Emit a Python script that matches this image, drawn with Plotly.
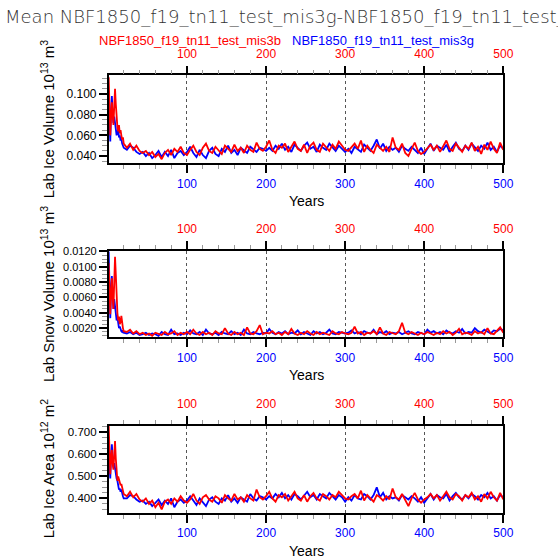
import plotly.graph_objects as go

# years sampled: every year for the spin-up, then every 4 years
years = list(range(1, 21)) + list(range(24, 501, 4))

case_b = "NBF1850_f19_tn11_test_mis3b"
case_g = "NBF1850_f19_tn11_test_mis3g"

# --- Lab Ice Volume (10^13 m^3) ---
ice_vol_b = [0.116, 0.085, 0.060, 0.078, 0.092, 0.080, 0.070, 0.088, 0.105, 0.090,
             0.075, 0.068, 0.064, 0.070, 0.062, 0.065, 0.060, 0.056, 0.058, 0.052,
             0.048, 0.052, 0.046, 0.050, 0.045,
             0.043, 0.045, 0.041, 0.044, 0.039, 0.042, 0.037, 0.043, 0.046, 0.041, 0.047, 0.044, 0.049, 0.043, 0.041,
             0.046, 0.050, 0.044, 0.041, 0.048, 0.052, 0.045, 0.043, 0.049, 0.046, 0.042, 0.050, 0.047, 0.044, 0.051,
             0.045, 0.048, 0.043, 0.050, 0.046, 0.044, 0.053, 0.047, 0.045, 0.049,
             0.055, 0.046, 0.043, 0.050, 0.048, 0.052, 0.044, 0.049, 0.054, 0.047, 0.045, 0.051, 0.043, 0.050, 0.053,
             0.046, 0.044, 0.052, 0.049, 0.045, 0.051, 0.047, 0.054, 0.050, 0.046,
             0.045, 0.049, 0.052, 0.047, 0.055, 0.044, 0.050, 0.046, 0.043, 0.051, 0.048, 0.045, 0.049, 0.044, 0.058,
             0.048, 0.046, 0.052, 0.043, 0.040, 0.047, 0.053, 0.045, 0.042, 0.044,
             0.048, 0.051, 0.046, 0.050, 0.044, 0.049, 0.055, 0.047, 0.045, 0.052, 0.048, 0.044, 0.050, 0.047, 0.053,
             0.045, 0.049, 0.042, 0.051, 0.046, 0.054, 0.047, 0.043, 0.053, 0.046]
ice_vol_g = [0.095, 0.060, 0.054, 0.085, 0.098, 0.082, 0.072, 0.078, 0.070, 0.065,
             0.060, 0.063, 0.066, 0.058, 0.060, 0.055, 0.057, 0.052, 0.050, 0.048,
             0.046, 0.050, 0.048, 0.044, 0.042,
             0.044, 0.040, 0.043, 0.038, 0.041, 0.045, 0.039, 0.044, 0.040, 0.046, 0.038, 0.043, 0.045, 0.041, 0.044,
             0.049, 0.043, 0.039, 0.046, 0.041, 0.038, 0.045, 0.048, 0.042, 0.040, 0.047, 0.044, 0.050, 0.043, 0.046,
             0.041, 0.048, 0.045, 0.043, 0.049, 0.046, 0.044, 0.048, 0.047, 0.045,
             0.048, 0.045, 0.050, 0.047, 0.052, 0.046, 0.049, 0.044, 0.051, 0.048, 0.045, 0.050, 0.053, 0.047, 0.049,
             0.044, 0.051, 0.048, 0.046, 0.052, 0.049, 0.045, 0.050, 0.047, 0.044,
             0.047, 0.043, 0.049, 0.046, 0.044, 0.051, 0.048, 0.045, 0.050, 0.056, 0.047, 0.052, 0.045, 0.049, 0.046,
             0.048, 0.044, 0.050, 0.047, 0.045, 0.049, 0.046, 0.043, 0.048, 0.042,
             0.047, 0.052, 0.045, 0.050, 0.048, 0.046, 0.051, 0.044, 0.049, 0.053, 0.047, 0.045, 0.050, 0.046, 0.052,
             0.048, 0.045, 0.050, 0.047, 0.053, 0.046, 0.049, 0.044, 0.050, 0.047]

# --- Lab Snow Volume (10^13 m^3) ---
snow_vol_b = [0.0105, 0.0060, 0.0038, 0.0065, 0.0085, 0.0060, 0.0045, 0.0080, 0.0113, 0.0090,
              0.0055, 0.0040, 0.0030, 0.0035, 0.0025, 0.0028, 0.0036, 0.0022, 0.0020, 0.0016,
              0.0015, 0.0018, 0.0013, 0.0016, 0.0012,
              0.0014, 0.0011, 0.0013, 0.0010, 0.0014, 0.0012, 0.0011, 0.0015, 0.0012, 0.0013, 0.0016, 0.0011, 0.0014, 0.0012, 0.0015,
              0.0012, 0.0018, 0.0013, 0.0011, 0.0015, 0.0012, 0.0014, 0.0011, 0.0016, 0.0013, 0.0012, 0.0020, 0.0013, 0.0011, 0.0015,
              0.0012, 0.0014, 0.0011, 0.0021, 0.0013, 0.0012, 0.0016, 0.0024, 0.0012, 0.0014,
              0.0013, 0.0016, 0.0012, 0.0014, 0.0011, 0.0015, 0.0012, 0.0019, 0.0013, 0.0011, 0.0014, 0.0012, 0.0016, 0.0013, 0.0011,
              0.0015, 0.0012, 0.0014, 0.0013, 0.0011, 0.0016, 0.0013, 0.0012, 0.0015, 0.0013,
              0.0012, 0.0014, 0.0022, 0.0013, 0.0015, 0.0011, 0.0014, 0.0013, 0.0016, 0.0012, 0.0021, 0.0013, 0.0011, 0.0015, 0.0013,
              0.0012, 0.0016, 0.0027, 0.0014, 0.0012, 0.0015, 0.0013, 0.0011, 0.0014, 0.0012,
              0.0015, 0.0013, 0.0011, 0.0014, 0.0012, 0.0016, 0.0013, 0.0015, 0.0011, 0.0014, 0.0019, 0.0012, 0.0014, 0.0013, 0.0011,
              0.0016, 0.0013, 0.0015, 0.0012, 0.0020, 0.0013, 0.0012, 0.0016, 0.0021, 0.0014]
snow_vol_g = [0.0120, 0.0060, 0.0033, 0.0070, 0.0088, 0.0065, 0.0045, 0.0058, 0.0048, 0.0040,
              0.0030, 0.0034, 0.0025, 0.0020, 0.0022, 0.0018, 0.0016, 0.0015, 0.0017, 0.0014,
              0.0013, 0.0015, 0.0012, 0.0014, 0.0011,
              0.0012, 0.0014, 0.0011, 0.0013, 0.0012, 0.0010, 0.0015, 0.0012, 0.0011, 0.0018, 0.0012, 0.0013, 0.0011, 0.0014, 0.0012,
              0.0017, 0.0013, 0.0012, 0.0015, 0.0011, 0.0018, 0.0013, 0.0012, 0.0014, 0.0011, 0.0015, 0.0013, 0.0012, 0.0016, 0.0012,
              0.0014, 0.0011, 0.0018, 0.0013, 0.0012, 0.0015, 0.0013, 0.0012, 0.0014, 0.0013,
              0.0019, 0.0014, 0.0012, 0.0015, 0.0013, 0.0016, 0.0012, 0.0014, 0.0013, 0.0017, 0.0012, 0.0015, 0.0013, 0.0011, 0.0016,
              0.0013, 0.0015, 0.0012, 0.0014, 0.0018, 0.0013, 0.0012, 0.0015, 0.0014, 0.0013,
              0.0014, 0.0017, 0.0013, 0.0015, 0.0012, 0.0016, 0.0014, 0.0013, 0.0018, 0.0012, 0.0015, 0.0013, 0.0016, 0.0012, 0.0014,
              0.0013, 0.0015, 0.0012, 0.0014, 0.0016, 0.0013, 0.0012, 0.0015, 0.0013, 0.0012,
              0.0018, 0.0014, 0.0016, 0.0013, 0.0015, 0.0012, 0.0017, 0.0014, 0.0013, 0.0016, 0.0014, 0.0019, 0.0013, 0.0015, 0.0014,
              0.0020, 0.0016, 0.0014, 0.0018, 0.0015, 0.0013, 0.0017, 0.0016, 0.0019, 0.0017]

# --- Lab Ice Area (10^12 m^2) ---
ice_area_b = [0.730, 0.600, 0.510, 0.580, 0.620, 0.560, 0.530, 0.600, 0.660, 0.580,
              0.500, 0.480, 0.500, 0.490, 0.470, 0.460, 0.465, 0.450, 0.440, 0.420,
              0.410, 0.430, 0.405, 0.420, 0.395,
              0.385, 0.400, 0.375, 0.390, 0.360, 0.380, 0.350, 0.385, 0.395, 0.375, 0.400, 0.385, 0.410, 0.390, 0.380,
              0.395, 0.420, 0.390, 0.375, 0.405, 0.415, 0.395, 0.385, 0.410, 0.400, 0.380, 0.415, 0.400, 0.390, 0.420,
              0.395, 0.405, 0.385, 0.415, 0.400, 0.390, 0.440, 0.405, 0.395, 0.410,
              0.430, 0.400, 0.385, 0.415, 0.405, 0.420, 0.390, 0.410, 0.430, 0.400, 0.390, 0.415, 0.385, 0.410, 0.425,
              0.400, 0.390, 0.420, 0.410, 0.395, 0.415, 0.405, 0.430, 0.415, 0.400,
              0.395, 0.410, 0.420, 0.400, 0.435, 0.390, 0.415, 0.400, 0.385, 0.415, 0.405, 0.390, 0.410, 0.395, 0.445,
              0.405, 0.395, 0.420, 0.390, 0.365, 0.400, 0.425, 0.395, 0.380, 0.395,
              0.405, 0.420, 0.400, 0.415, 0.390, 0.410, 0.430, 0.405, 0.395, 0.420, 0.410, 0.390, 0.415, 0.405, 0.425,
              0.395, 0.410, 0.385, 0.420, 0.400, 0.430, 0.405, 0.390, 0.425, 0.395]
ice_area_g = [0.620, 0.520, 0.490, 0.600, 0.645, 0.590, 0.540, 0.560, 0.530, 0.510,
              0.490, 0.480, 0.450, 0.440, 0.445, 0.430, 0.440, 0.420, 0.410, 0.400,
              0.400, 0.415, 0.410, 0.395, 0.385,
              0.390, 0.375, 0.385, 0.365, 0.380, 0.395, 0.370, 0.390, 0.375, 0.400, 0.360, 0.385, 0.395, 0.380, 0.390,
              0.410, 0.390, 0.370, 0.400, 0.380, 0.365, 0.395, 0.405, 0.385, 0.375, 0.400, 0.390, 0.415, 0.385, 0.400,
              0.380, 0.405, 0.395, 0.385, 0.420, 0.400, 0.390, 0.410, 0.405, 0.395,
              0.410, 0.400, 0.420, 0.405, 0.425, 0.400, 0.415, 0.395, 0.420, 0.410, 0.395, 0.415, 0.430, 0.405, 0.415,
              0.395, 0.420, 0.410, 0.400, 0.425, 0.410, 0.395, 0.415, 0.405, 0.385,
              0.405, 0.390, 0.415, 0.400, 0.395, 0.420, 0.410, 0.395, 0.415, 0.450, 0.405, 0.425, 0.395, 0.410, 0.400,
              0.405, 0.390, 0.415, 0.405, 0.395, 0.410, 0.400, 0.385, 0.405, 0.380,
              0.400, 0.420, 0.395, 0.415, 0.405, 0.400, 0.420, 0.390, 0.410, 0.425, 0.405, 0.395, 0.415, 0.400, 0.420,
              0.410, 0.395, 0.415, 0.405, 0.425, 0.400, 0.410, 0.390, 0.415, 0.405]

panels = [
    dict(b=ice_vol_b, g=ice_vol_g, yrange=[0.033, 0.118], dtick=0.02, minor=0.005, fmt=".3f", fsize=12,
         title="Lab Ice Volume 10<sup>13</sup> m<sup>3</sup>"),
    dict(b=snow_vol_b, g=snow_vol_g, yrange=[0.0008, 0.0121], dtick=0.002, minor=0.0005, fmt=".4f", fsize=11,
         title="Lab Snow Volume 10<sup>13</sup> m<sup>3</sup>"),
    dict(b=ice_area_b, g=ice_area_g, yrange=[0.335, 0.730], dtick=0.1, minor=0.025, fmt=".3f", fsize=11.5,
         title="Lab Ice Area 10<sup>12</sup> m<sup>2</sup>"),
]

W = H = 558
x_dom = [108.7 / W, 503.3 / W]
# (top, bottom) pixel rows of each plot box
boxes = [(75.3, 163.3), (250.7, 337.3), (425.7, 512.7)]

FONT = "Liberation Sans, Arial, Helvetica, sans-serif"
fig = go.Figure()
layout = dict(
    template="none",
    width=W, height=H, margin=dict(l=0, r=0, t=0, b=0, pad=0, autoexpand=False),
    paper_bgcolor="white", plot_bgcolor="white", showlegend=False,
    font=dict(family=FONT, color="black"),
)
annotations = []

for i, p in enumerate(panels):
    n = i + 1
    top, bot = boxes[i]
    ydom = [1 - bot / H, 1 - top / H]
    xb = "x" if n == 1 else f"x{n}"
    xt = f"x{n + 3}"
    yk = "y" if n == 1 else f"y{n}"

    fig.add_trace(go.Scatter(x=years, y=p["g"], mode="lines", xaxis=xb, yaxis=yk,
                             line=dict(color="blue", width=1.8), name=case_g))
    fig.add_trace(go.Scatter(x=years, y=p["b"], mode="lines", xaxis=xt, yaxis=yk,
                             line=dict(color="red", width=1.8), name=case_b))

    common_x = dict(range=[1, 500], tickmode="linear", tick0=0, dtick=100, ticks="outside",
                    ticklen=8, tickwidth=1.5, tickcolor="black", showline=True, linecolor="black",
                    linewidth=1.6, zeroline=False, automargin=False,
                    minor=dict(tickmode="linear", tick0=0, dtick=20, ticks="outside", ticklen=4,
                               tickcolor="#999999", tickwidth=1))
    layout[f"xaxis{'' if n == 1 else n}"] = dict(
        common_x, domain=x_dom, anchor=yk, side="bottom",
        tickfont=dict(size=12, color="blue"),
        showgrid=True, gridcolor="#555555", griddash="3px,3px", gridwidth=1)
    layout[f"xaxis{n + 3}"] = dict(
        common_x, overlaying=xb, anchor=yk, side="top", ticklabelstandoff=3,
        tickfont=dict(size=12, color="red"), showgrid=False)
    layout[f"yaxis{'' if n == 1 else n}"] = dict(
        domain=ydom, anchor=xb, range=p["yrange"], tickmode="linear", tick0=0, dtick=p["dtick"],
        tickformat=p["fmt"], ticks="outside", ticklen=8, tickwidth=1.5, tickcolor="black",
        showline=True, mirror=True, linecolor="black", linewidth=1.6, showgrid=False, zeroline=False,
        automargin=False, tickfont=dict(size=p["fsize"]),
        minor=dict(tickmode="linear", tick0=0, dtick=p["minor"], ticks="outside", ticklen=5,
                   tickcolor="#999999", tickwidth=1))

    # y title and "Years" label
    annotations.append(dict(text=p["title"], textangle=-90, x=47 / W, y=1 - (top + bot) / 2 / H,
                            xref="paper", yref="paper", showarrow=False, xanchor="center",
                            yanchor="middle", font=dict(size=15)))
    annotations.append(dict(text="Years", x=306 / W, y=1 - (bot + 38) / H, xref="paper", yref="paper",
                            showarrow=False, xanchor="center", yanchor="middle", font=dict(size=14)))

annotations.append(dict(text=f"Mean {case_g}-{case_b}", x=3 / W, y=1 - 16 / H, xref="paper",
                        yref="paper", showarrow=False, xanchor="left", yanchor="middle",
                        font=dict(family="DejaVu Sans, sans-serif", size=18, color="#333333",
                                  weight=200)))
annotations.append(dict(text=case_b, x=283 / W, y=1 - 40 / H, xref="paper", yref="paper",
                        showarrow=False, xanchor="right", yanchor="middle",
                        font=dict(size=13, color="red")))
annotations.append(dict(text=case_g, x=290 / W, y=1 - 40 / H, xref="paper", yref="paper",
                        showarrow=False, xanchor="left", yanchor="middle",
                        font=dict(size=13, color="blue")))

layout["annotations"] = annotations
fig.update_layout(**layout)
fig.write_html("out.html", config={"displayModeBar": False},
               post_script="document.body.style.margin='0';"
                           "document.body.style.overflow='hidden';"
                           "document.documentElement.style.overflow='hidden';")
